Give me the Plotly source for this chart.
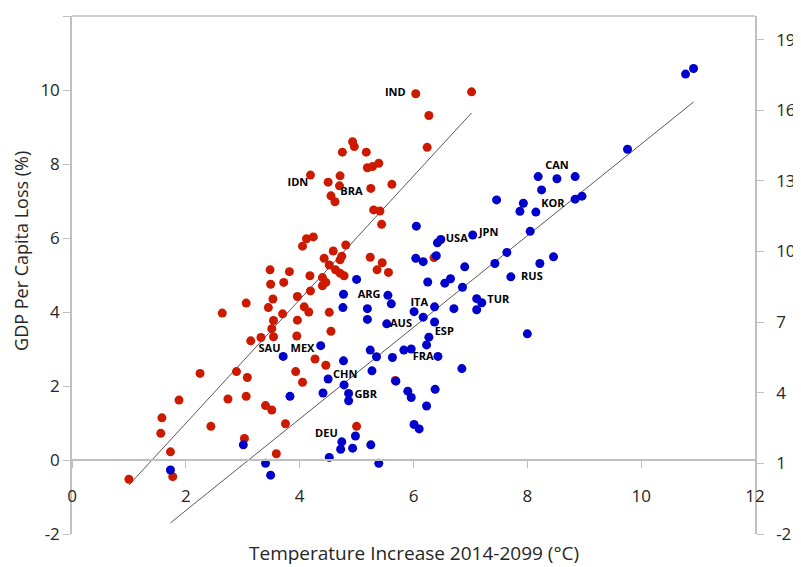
import numpy as np
import plotly.graph_objects as go

# red group
red_x = [4.93, 4.96, 4.75, 4.19, 4.50, 4.71, 4.70, 4.55, 4.62, 4.24, 4.12, 4.05, 4.81,
         6.04, 7.02, 6.27, 6.24, 5.17, 5.19, 5.28, 5.39, 5.25, 5.62, 5.30, 5.41, 5.44,
         4.43, 4.59, 4.71, 4.74, 4.52, 3.48, 3.82, 3.49, 3.72, 4.18, 4.63, 4.71, 4.78,
         4.40, 4.40, 4.46, 4.19, 3.53, 3.96, 3.06, 2.64, 3.45, 3.70, 4.08, 4.16, 4.52,
         3.54, 3.96, 3.51, 3.54, 3.32, 3.14, 3.95, 4.55, 4.27, 4.46, 2.25, 2.89, 3.08,
         3.93, 4.05, 1.88, 2.74, 3.06, 3.40, 3.51, 1.58, 1.56, 2.44, 3.75, 5.00, 3.03,
         1.73, 3.59, 1.77, 1.00, 5.24, 5.45, 5.36, 5.56, 6.36, 5.68]
red_y = [8.60, 8.47, 8.32, 7.70, 7.51, 7.68, 7.41, 7.14, 6.98, 6.03, 5.98, 5.78, 5.81,
         9.90, 9.95, 9.31, 8.45, 8.32, 7.90, 7.93, 8.02, 7.34, 7.45, 6.76, 6.73, 6.37,
         5.45, 5.65, 5.41, 5.51, 5.27, 5.14, 5.09, 4.75, 4.80, 4.98, 5.14, 5.05, 4.98,
         4.93, 4.71, 4.80, 4.57, 4.35, 4.42, 4.24, 3.97, 4.12, 3.95, 4.14, 4.00, 3.99,
         3.77, 3.78, 3.55, 3.33, 3.31, 3.22, 3.35, 3.48, 2.73, 2.56, 2.34, 2.39, 2.23,
         2.39, 2.10, 1.62, 1.65, 1.72, 1.47, 1.35, 1.14, 0.72, 0.91, 0.98, 0.91, 0.58,
         0.22, 0.17, -0.45, -0.52, 5.48, 5.33, 5.14, 5.07, 5.47, 2.15]

# blue group
blue_x = [6.05, 6.42, 6.48, 7.04, 7.46, 8.19, 8.52, 8.84, 8.25, 7.93, 7.87, 8.15, 8.84,
          8.96, 8.05, 7.64, 9.76, 10.78, 10.92, 3.71, 4.37, 4.77, 4.50, 4.78, 3.83, 4.41,
          4.86, 4.86, 3.01, 4.74, 4.72, 4.98, 4.93, 4.52, 3.40, 3.49, 1.73, 5.00, 4.77,
          4.76, 5.39, 6.04, 6.17, 6.40, 6.90, 7.43, 8.22, 8.46, 7.71, 6.25, 6.55, 6.65,
          6.86, 7.11, 7.20, 7.11, 5.55, 5.61, 5.19, 5.19, 5.53, 6.01, 6.37, 6.17, 6.71,
          6.37, 6.27, 6.23, 5.83, 5.96, 5.24, 5.35, 5.63, 6.43, 6.85, 5.27, 5.69, 5.90,
          5.96, 6.38, 6.23, 6.01, 6.10, 5.25, 8.00]
blue_y = [6.32, 5.87, 5.96, 6.08, 7.03, 7.66, 7.60, 7.66, 7.30, 6.94, 6.72, 6.70, 7.05,
          7.13, 6.18, 5.61, 8.40, 10.43, 10.58, 2.80, 3.09, 2.68, 2.19, 2.03, 1.72, 1.81,
          1.80, 1.60, 0.41, 0.49, 0.29, 0.65, 0.32, 0.07, -0.09, -0.41, -0.27, 4.88, 4.48,
          4.12, -0.09, 5.45, 5.36, 5.52, 5.22, 5.31, 5.31, 5.49, 4.95, 4.81, 4.78, 4.90,
          4.67, 4.36, 4.25, 4.06, 4.45, 4.22, 4.09, 3.80, 3.68, 4.01, 4.14, 3.86, 4.09,
          3.73, 3.32, 3.11, 2.97, 3.00, 2.97, 2.79, 2.77, 2.80, 2.47, 2.41, 2.13, 1.86,
          1.69, 1.91, 1.46, 0.96, 0.84, 0.41, 3.41]

# country labels and where they sit
label_text = ["IND", "IDN", "BRA", "SAU", "MEX", "CHN", "GBR", "DEU", "ARG", "AUS",
              "ITA", "ESP", "FRA", "USA", "JPN", "CAN", "KOR", "RUS", "TUR"]
label_x = [5.68, 3.97, 4.91, 3.47, 4.05, 4.80, 5.16, 4.47, 5.22, 5.78,
           6.10, 6.54, 6.17, 6.76, 7.32, 8.52, 8.45, 8.08, 7.49]
label_y = [9.91, 7.49, 7.25, 3.00, 3.00, 2.30, 1.76, 0.70, 4.46, 3.66,
           4.24, 3.44, 2.78, 5.96, 6.14, 7.95, 6.92, 4.93, 4.33]

# tick labels
x_ticks = [0, 2, 4, 6, 8, 10, 12]
y_ticks = [-2, 0, 2, 4, 6, 8, 10, 12]
y2_ticks = [-2, 1, 4, 7, 10, 13, 16, 19]

RED = "#cc1a00"
BLUE = "#0000cc"
AXIS = "#bfbfbf"
TXT = "#262626"
FONT = "Open Sans"

fig = go.Figure()

# linear trendlines over each group's x span
for xs, ys in [(red_x, red_y), (blue_x, blue_y)]:
    k, b = np.polyfit(xs, ys, 1)
    xl = np.array([min(xs), max(xs)])
    fig.add_trace(go.Scatter(x=xl, y=k * xl + b, mode="lines",
                             line=dict(color="#595959", width=1), showlegend=False,
                             hoverinfo="skip"))

fig.add_trace(go.Scatter(x=red_x, y=red_y, mode="markers",
                         marker=dict(color=RED, size=9), showlegend=False))
fig.add_trace(go.Scatter(x=blue_x, y=blue_y, mode="markers",
                         marker=dict(color=BLUE, size=9), showlegend=False))
fig.add_trace(go.Scatter(x=label_x, y=label_y, mode="text", text=label_text,
                         textfont=dict(family=FONT, size=11, color="#000000", weight="bold"),
                         showlegend=False, hoverinfo="skip"))
# secondary axis holder
fig.add_trace(go.Scatter(x=[], y=[], yaxis="y2", showlegend=False))

tickfont = dict(family=FONT, size=17, color=TXT)


def lab(v):
    return [str(t) for t in v]


# page body has an 8px margin, so the figure is a bit smaller than the window
fig.update_layout(
    width=793, height=559,
    margin=dict(l=64, r=46, t=8, b=33),
    paper_bgcolor="white", plot_bgcolor="white",
    font=dict(family=FONT, color=TXT),
    xaxis=dict(range=[0, 12], tickvals=x_ticks, ticktext=lab(x_ticks),
               showgrid=False, zeroline=False, automargin=False,
               showline=True, linecolor=AXIS, linewidth=1.5,
               ticks="outside", ticklen=7, tickcolor=AXIS,
               anchor="free", position=2 / 14, ticklabelstandoff=14,
               tickfont=tickfont),
    yaxis=dict(range=[-2, 12], tickvals=y_ticks, ticktext=lab(y_ticks),
               showgrid=False, zeroline=False, automargin=False,
               showline=True, linecolor=AXIS, linewidth=1.5,
               ticks="outside", ticklen=7, tickcolor=AXIS, tickfont=tickfont),
    yaxis2=dict(range=[-2, 20], tickvals=y2_ticks, ticktext=lab(y2_ticks),
                overlaying="y", side="right", automargin=False,
                showgrid=False, zeroline=False, showline=True, linecolor=AXIS,
                linewidth=1.5, ticks="outside", ticklen=7, tickcolor=AXIS,
                ticklabelstandoff=9, tickfont=tickfont),
    shapes=[dict(type="line", xref="paper", yref="paper", x0=0, x1=1, y0=1, y1=1,
                 line=dict(color=AXIS, width=1.5))],
    annotations=[
        dict(text="Temperature Increase 2014-2099 (°C)", xref="paper", yref="paper",
             x=0.5, y=0, yshift=-19, xanchor="center", yanchor="middle",
             showarrow=False, font=dict(family=FONT, size=19, color=TXT)),
        dict(text="GDP Per Capita Loss (%)", xref="paper", yref="y",
             x=0, y=5.65, xshift=-51, xanchor="center", yanchor="middle",
             textangle=-90, showarrow=False,
             font=dict(family=FONT, size=18, color=TXT)),
    ],
)

fig.write_html("out.html")
